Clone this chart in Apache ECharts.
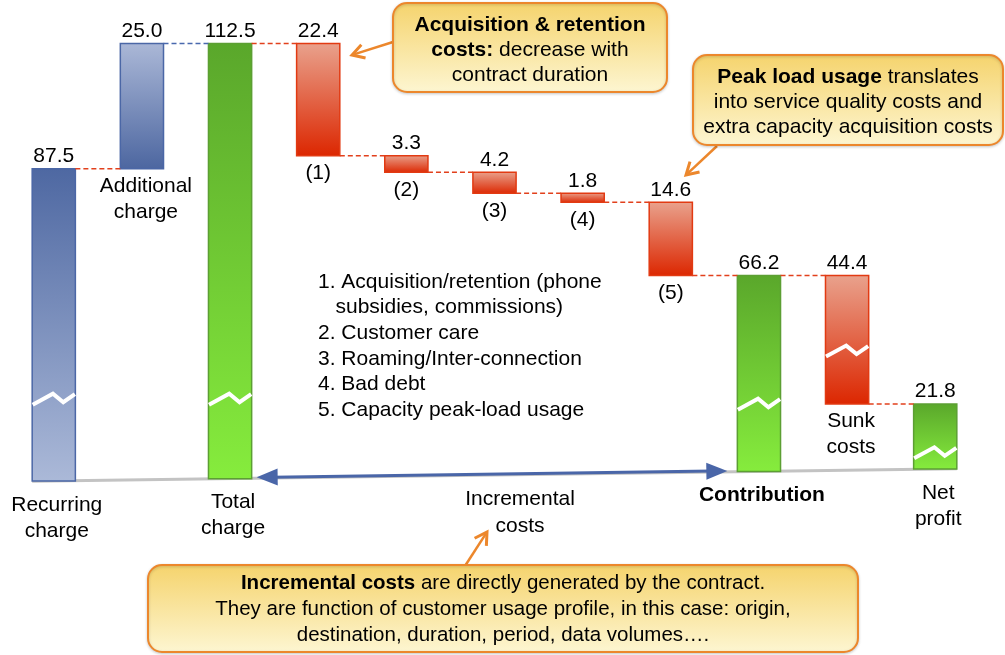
<!DOCTYPE html>
<html><head><meta charset="utf-8">
<script src="https://cdn.jsdelivr.net/npm/echarts@6/dist/echarts.min.js"></script>
<style>html,body{margin:0;padding:0;background:#fff}#c{width:1005px;height:655px}</style>
</head><body><div id="c"></div>
<script>
// ---------- data ----------
const categories = ['Recurring\ncharge','Additional\ncharge','Total\ncharge','(1)','(2)','(3)','(4)','(5)','Contribution','Sunk\ncosts','Net\nprofit'];
const values = [87.5, 25.0, 112.5, 22.4, 3.3, 4.2, 1.8, 14.6, 66.2, 44.4, 21.8];
const kinds = ['total','up','total','down','down','down','down','down','total','down','total'];
const valueLabels = values.map(v => v.toFixed(1));
const legendLines = ['1. Acquisition/retention (phone','   subsidies, commissions)','2. Customer care','3. Roaming/Inter-connection','4. Bad debt','5. Capacity peak-load usage'];
const boldCategory = 'Contribution';

// ---------- derived running totals ----------
const starts = [], ends = [];
let run = 0;
kinds.forEach((k, i) => {
  if (k === 'total') { starts.push(0); run = values[i]; ends.push(run); }
  else if (k === 'up') { starts.push(run); run = +(run + values[i]).toFixed(1); ends.push(run); }
  else { starts.push(run); run = +(run - values[i]).toFixed(1); ends.push(run); }
});

// ---------- broken value scale (compressed lower part) ----------
const breakReal  = [0, 21.8, 66.2, 200];
const breakShown = [26.37, 40.54, 66.2, 200];
function shown(v) {
  for (let k = 0; k < breakReal.length - 1; k++) {
    if (v <= breakReal[k + 1]) {
      const t = (v - breakReal[k]) / (breakReal[k + 1] - breakReal[k]);
      return breakShown[k] + t * (breakShown[k + 1] - breakShown[k]);
    }
  }
  return v;
}

// ---------- styles ----------
const FONT = "'Liberation Sans', Arial, Helvetica, sans-serif";
const G = echarts.graphic;
const grad = (a, b) => new G.LinearGradient(0, 0, 0, 1, [{offset: 0, color: a}, {offset: 1, color: b}]);
const barStyles = {
  blueTotal: {fill: ['#4e68a2', '#abb9d8'], stroke: '#4b67a6'},
  blueUp:    {fill: ['#abb8d7', '#4c66a0'], stroke: '#4b67a6'},
  green:     {fill: ['#5aa72b', '#86ec3d'], stroke: '#5c9f33'},
  red:       {fill: ['#e9a28d', '#dc2600'], stroke: '#e23a12'}
};
const barStyleOf = ['blueTotal','blueUp','green','red','red','red','red','red','green','red','green'];
const zigAt = [41.5, null, 41.5, null, null, null, null, null, 40.5, 51.1, 30.8];
const tilt = x => (500 - x) * 0.0135;

function renderItem(params, api) {
  const i = params.dataIndex;
  const band = api.size([1, 0])[0];
  const w = band * 0.49;
  const cx = api.coord([i, 0])[0];
  const yOf = v => api.coord([i, shown(v)])[1];
  const hi = Math.max(starts[i], ends[i]), lo = Math.min(starts[i], ends[i]);
  const yTop = yOf(hi);
  let yBot = yOf(lo);
  if (lo === 0) yBot += tilt(cx);
  const st = barStyles[barStyleOf[i]];
  const children = [];

  if (i === 0) {
    // grey baseline
    const xL = cx - w / 2, xR = api.coord([categories.length - 1, 0])[0] + w / 2;
    const yb = api.coord([0, shown(0)])[1];
    children.push({type: 'line', z2: 0, shape: {x1: xL, y1: yb + tilt(xL), x2: xR, y2: yb + tilt(xR)},
      style: {stroke: '#c3c3c3', lineWidth: 3}});
  }

  children.push({type: 'rect', z2: 5, shape: {x: cx - w / 2, y: yTop, width: w, height: yBot - yTop},
    style: {fill: grad(st.fill[0], st.fill[1]), stroke: st.stroke, lineWidth: 1.5}});

  if (zigAt[i] != null) {
    const zy = api.coord([i, zigAt[i]])[1];
    const x0 = cx - w / 2;
    children.push({type: 'polyline', z2: 6, shape: {points: [
      [x0 + 0.5, zy + 5.5], [x0 + w * 0.48, zy - 5.5], [x0 + w * 0.72, zy + 3], [x0 + w - 0.5, zy - 5]]},
      style: {stroke: '#fff', lineWidth: 4, fill: null, lineJoin: 'miter'}});
  }

  // connector to next bar
  if (i < categories.length - 1) {
    const nx = api.coord([i + 1, 0])[0];
    const ly = yOf(ends[i]);
    children.push({type: 'line', z2: 7, shape: {x1: cx + w / 2, y1: ly, x2: nx - w / 2, y2: ly},
      style: {stroke: i === 1 ? '#4a69ae' : '#e2401c', lineWidth: 1.6, lineDash: [5, 3]}});
  }

  // value label
  children.push({type: 'text', z2: 8, style: {text: valueLabels[i], x: cx, y: yTop - 2,
    align: 'center', verticalAlign: 'bottom', textAlign: 'center', textVerticalAlign: 'bottom',
    fontSize: 21, fontFamily: FONT, fill: '#000'}});

  // category label
  const isBold = categories[i] === boldCategory;
  if (kinds[i] === 'total') {
    children.push({type: 'text', z2: 8, style: {text: categories[i], x: cx + 3, y: yBot + 11,
      align: 'center', verticalAlign: 'top', textAlign: 'center', textVerticalAlign: 'top',
      fontSize: 21, fontWeight: isBold ? 'bold' : 'normal', fontFamily: FONT, fill: '#000', lineHeight: 26}});
  } else {
    const single = categories[i].indexOf('\n') < 0;
    children.push({type: 'text', z2: 8, style: {text: categories[i], x: cx + (single ? 0 : 4), y: yBot + (single ? 5 : 4),
      align: 'center', verticalAlign: 'top', textAlign: 'center', textVerticalAlign: 'top',
      fontSize: 21, fontFamily: FONT, fill: '#000', lineHeight: 26}});
  }

  if (i === 2) {
    // double headed arrow Total -> Contribution along baseline
    const xa = cx + w / 2 + 5;
    const cxC = api.coord([8, 0])[0];
    const xb = cxC - w / 2 - 10;
    const yb0 = api.coord([0, shown(0)])[1];
    const ya = yb0 + tilt(xa) - 1, yb = yb0 + tilt(xb) - 1;
    const ang = Math.atan2(yb - ya, xb - xa);
    const L = 21, H = 8.5;
    const head = (tx, ty, dir) => {
      const ux = Math.cos(ang) * dir, uy = Math.sin(ang) * dir;
      const bx = tx - ux * L, by = ty - uy * L;
      return [[tx, ty], [bx - uy * H, by + ux * H], [bx + uy * H, by - ux * H]];
    };
    children.push({type: 'line', z2: 9, shape: {x1: xa + 15, y1: ya, x2: xb - 15, y2: yb},
      style: {stroke: '#4a66a8', lineWidth: 3}});
    children.push({type: 'polygon', z2: 9, shape: {points: head(xa, ya, -1)}, style: {fill: '#4a66a8'}});
    children.push({type: 'polygon', z2: 9, shape: {points: head(xb, yb, 1)}, style: {fill: '#4a66a8'}});
  }
  return {type: 'group', children};
}

// ---------- annotations ----------
const ORANGE = '#ec872c';
function calloutRect(x, y, w, h) {
  return {type: 'rect', shape: {x, y, width: w, height: h, r: 14}, z: 20,
    style: {fill: grad('#f5d36c', '#fdf6d2'), stroke: ORANGE, lineWidth: 2,
      shadowBlur: 3, shadowColor: 'rgba(0,0,0,0.18)', shadowOffsetY: 1}};
}
function richText(x, y, text, size, lh) {
  return {type: 'text', z: 21, style: {x, y, text, align: 'center', verticalAlign: 'middle',
    textAlign: 'center', textVerticalAlign: 'middle', fill: '#000', fontFamily: FONT, fontSize: size, lineHeight: lh,
    rich: {b: {fontWeight: 'bold', fontSize: size, fontFamily: FONT, lineHeight: lh, fill: '#000'},
           n: {fontSize: size, fontFamily: FONT, lineHeight: lh, fill: '#000'}}}};
}
function arrow(x1, y1, x2, y2) {
  const ang = Math.atan2(y2 - y1, x2 - x1), L = 12, H = 7;
  const ux = Math.cos(ang), uy = Math.sin(ang);
  const bx = x2 - ux * L, by = y2 - uy * L;
  return [
    {type: 'line', z: 19, shape: {x1, y1, x2: x2 - ux * 2, y2: y2 - uy * 2}, style: {stroke: ORANGE, lineWidth: 2.5}},
    {type: 'polyline', z: 19, shape: {points: [[bx - uy * H, by + ux * H], [x2, y2], [bx + uy * H, by - ux * H]]},
      style: {stroke: ORANGE, lineWidth: 3, fill: null, lineJoin: 'miter'}}
  ];
}

const graphics = [
  {type: 'text', z: 10, style: {x: 318, y: 269, text: legendLines.join('\n'), fontSize: 21, fontFamily: FONT,
    lineHeight: 25.7, fill: '#000', align: 'left', verticalAlign: 'top', textAlign: 'left', textVerticalAlign: 'top'}},
  {type: 'text', z: 10, style: {x: 520, y: 513, text: 'Incremental\ncosts', fontSize: 21, fontFamily: FONT,
    lineHeight: 27, fill: '#000', align: 'center', verticalAlign: 'middle', textAlign: 'center', textVerticalAlign: 'middle'}},
  ...arrow(393, 42, 352, 55),
  calloutRect(393, 3, 274, 89),
  richText(530, 50, '{b|Acquisition & retention}\n{b|costs:}{n| decrease with}\n{n|contract duration}', 21, 25),
  ...arrow(717, 146, 686, 175),
  calloutRect(693, 55, 310, 90),
  richText(848, 102, '{b|Peak load usage}{n| translates}\n{n|into service quality costs and}\n{n|extra capacity acquisition costs}', 21, 25),
  ...arrow(465, 566, 487, 532),
  calloutRect(148, 565, 710, 87),
  richText(503, 609, '{b|Incremental costs}{n| are directly generated by the contract.}\n{n|They are function of customer usage profile, in this case: origin,}\n{n|destination, duration, period, data volumes\u2026.}', 20.5, 26)
];

const chart = echarts.init(document.getElementById('c'), null, {renderer: 'canvas'});
chart.setOption({
  animation: false,
  backgroundColor: '#fff',
  grid: {left: 9.7, right: 25.7, top: 5.9, bottom: 47.9},
  xAxis: {type: 'category', data: categories, show: false},
  yAxis: {type: 'value', min: 0, max: 120, show: false},
  series: [{
    type: 'custom',
    renderItem,
    data: values.map((v, i) => [i, v]),
    encode: {x: 0, y: 1},
    clip: false
  }],
  graphic: graphics
});
</script></body></html>
